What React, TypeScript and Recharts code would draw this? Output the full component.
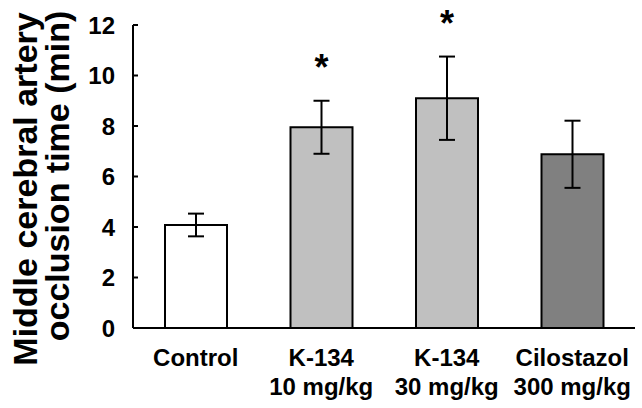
import { BarChart, Bar, XAxis, YAxis, ErrorBar, LabelList, Cell } from 'recharts';

const groups = ['Control', 'K-134', 'K-134', 'Cilostazol'];
const doses = ['', '10 mg/kg', '30 mg/kg', '300 mg/kg'];
const means = [4.08, 7.95, 9.1, 6.88];
const errors = [0.45, 1.05, 1.65, 1.33];
const significant = [false, true, true, false];
const fills = ['#ffffff', '#c0c0c0', '#c0c0c0', '#808080'];
const yTicks = [0, 2, 4, 6, 8, 10, 12];

const data = groups.map((g, i) => ({ key: String(i), group: g, dose: doses[i], mean: means[i], err: errors[i] }));

const font = '"Liberation Sans", Arial, sans-serif';

function GroupTick(props: any) {
  const { x, y, payload } = props;
  const i = Number(payload.value);
  return (
    <g>
      <text x={x} y={y + 30} textAnchor="middle" fontFamily={font} fontWeight="bold" fontSize={24} fill="#000">
        {groups[i]}
      </text>
      {doses[i] && (
        <text x={x} y={y + 59} textAnchor="middle" fontFamily={font} fontWeight="bold" fontSize={24} fill="#000">
          {doses[i]}
        </text>
      )}
    </g>
  );
}

function Star(props: any) {
  const { x, y, width, height, index, value } = props;
  if (!significant[index]) return null;
  const errPx = (errors[index] * Number(height)) / Number(value);
  return (
    <text x={Number(x) + Number(width) / 2} y={Number(y) - errPx - 21} textAnchor="middle" fontFamily={font} fontWeight="bold" fontSize={36} fill="#000">
      *
    </text>
  );
}

function YTitle() {
  return (
    <g fontFamily={font} fontWeight="bold" fontSize={34} fill="#000">
      <text transform="rotate(-90, 25, 189)" x={25} y={189} textAnchor="middle" dominantBaseline="central">
        Middle cerebral artery
      </text>
      <text transform="rotate(-90, 57, 176)" x={57} y={176} textAnchor="middle" dominantBaseline="central">
        occlusion time (min)
      </text>
    </g>
  );
}

export default function App() {
  return (
    <div style={{ position: 'absolute', left: 0, top: 0, background: '#fff' }}>
      <BarChart width={642} height={408} data={data} margin={{ top: 25, right: 7, left: 0, bottom: 0 }} barSize={62}>
        <XAxis
          dataKey="key"
          height={80}
          tickLine={false}
          axisLine={{ stroke: '#000', strokeWidth: 2 }}
          tick={<GroupTick />}
          interval={0}
        />
        <YAxis
          width={133}
          domain={[0, 12]}
          ticks={yTicks}
          interval={0}
          axisLine={{ stroke: '#000', strokeWidth: 2 }}
          tickLine={{ stroke: '#000', strokeWidth: 2 }}
          tickSize={-5}
          tickMargin={23}
          tick={{ fontFamily: font, fontWeight: 'bold', fontSize: 24, fill: '#000' }}
          label={{ content: () => <YTitle /> }}
        />
        <Bar dataKey="mean" stroke="#000" strokeWidth={2} isAnimationActive={false}>
          {data.map((d, i) => (
            <Cell key={d.key} fill={fills[i]} />
          ))}
          <ErrorBar dataKey="err" width={8} stroke="#000" strokeWidth={2} isAnimationActive={false} />
          <LabelList dataKey="mean" content={<Star />} />
        </Bar>
      </BarChart>
    </div>
  );
}
